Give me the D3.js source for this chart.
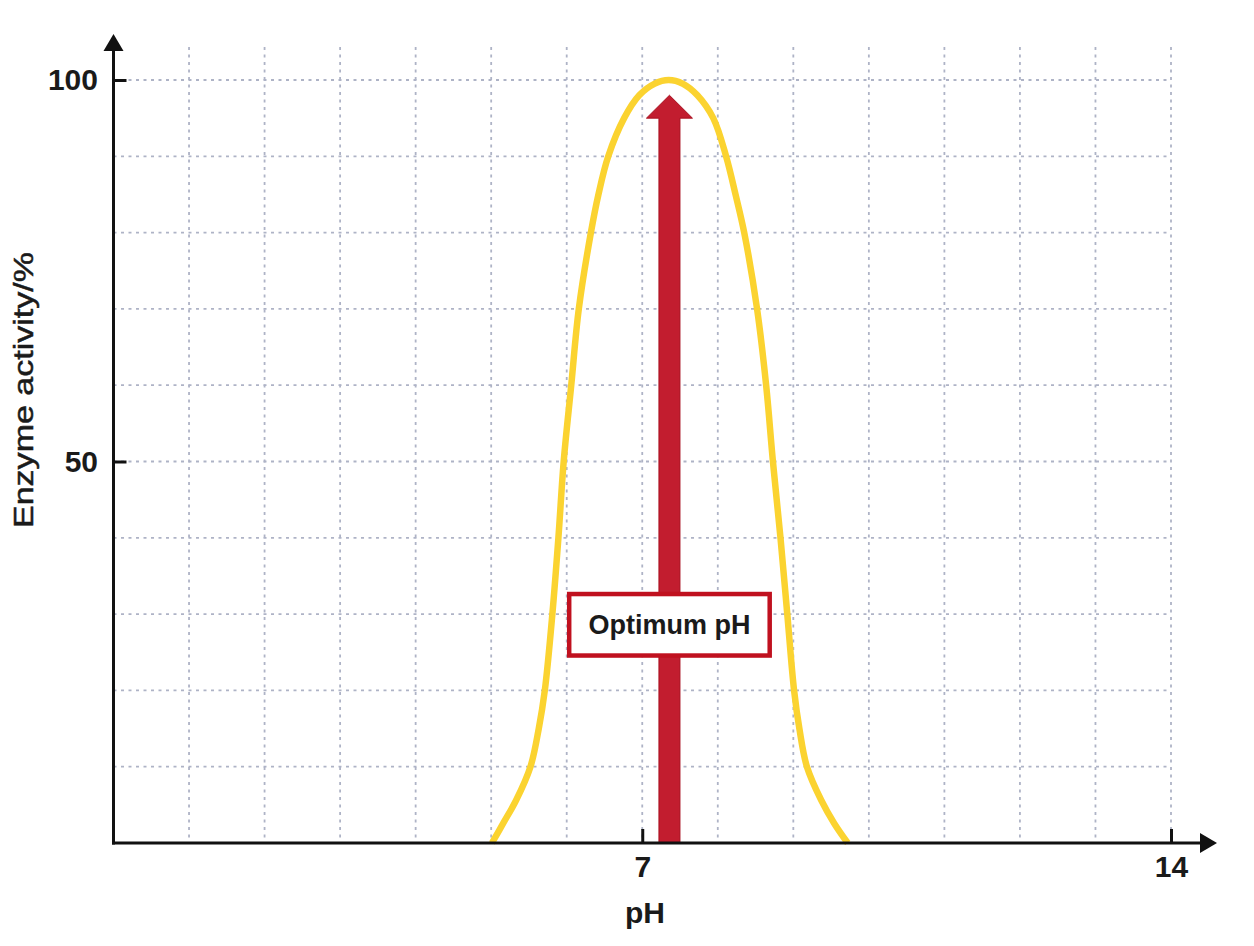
<!DOCTYPE html>
<html>
<head>
<meta charset="utf-8">
<script src="https://cdn.jsdelivr.net/npm/d3@7"></script>
<style>
  html, body { margin: 0; padding: 0; background: #ffffff; }
  svg { display: block; }
</style>
</head>
<body>
<svg id="chart" width="1254" height="946"></svg>
<script>
// ---- data ----
const phValues       = [5.01, 5.16, 5.33, 5.52, 5.63, 5.71, 5.81, 5.89, 5.96, 6.06, 6.16, 6.32, 6.42, 6.55, 6.76, 6.96, 7.16, 7.35, 7.54, 7.73, 7.94, 8.11, 8.235, 8.35, 8.52, 8.64, 8.73, 8.83, 8.92, 9.01, 9.08, 9.18, 9.37, 9.54, 9.72];
const activityValues = [0,    2.6,  5.6,  10,   15,   20,   30,   40,   50,   60,   70,   80,   85,   90,   95,   98,   99.5, 100,  99.5, 98,   95,   90,   85,    80,   70,   60,   50,   40,   30,   20,   15,   10,   5.6,  2.6,  0];
const xTickValues = [7, 14];
const yTickValues = [50, 100];
const xGridValues = [1,2,3,4,5,6,7,8,9,10,11,12,13,14];
const yGridValues = [10,20,30,40,50,60,70,80,90,100];
const optimumPH = 7.36;
const arrowTip = 98;      // activity % at arrow tip
const arrowHeadBase = 95; // activity % at arrow head base
const labelActivity = 28.6;
const xAxisTitle = "pH";
const yAxisTitle = "Enzyme activity/%";
const annotationText = "Optimum pH";

// ---- layout ----
const svg = d3.select("#chart");
const x = d3.scaleLinear().domain([0, 14]).range([113.5, 1171]);
const y = d3.scaleLinear().domain([0, 100]).range([843, 80]);

const gridColor = "#aeb3c6";
const axisColor = "#111111";

// grid
const grid = svg.append("g");
grid.selectAll("line.v").data(xGridValues).join("line")
  .attr("x1", d => x(d)).attr("x2", d => x(d))
  .attr("y1", 47).attr("y2", y(0))
  .attr("stroke", gridColor).attr("stroke-width", 1.8)
  .attr("stroke-dasharray", "3,4.5");
grid.selectAll("line.h").data(yGridValues).join("line")
  .attr("x1", x(0)).attr("x2", x(14))
  .attr("y1", d => y(d)).attr("y2", d => y(d))
  .attr("stroke", gridColor).attr("stroke-width", 1.8)
  .attr("stroke-dasharray", "3,4.5");

// curve
const line = d3.line()
  .x((d, i) => x(phValues[i]))
  .y(d => y(d))
  .curve(d3.curveCatmullRom.alpha(0.5));
svg.append("path")
  .attr("d", line(activityValues))
  .attr("fill", "none")
  .attr("stroke", "#fbd330")
  .attr("stroke-width", 6.5);

// arrow
const ax = x(optimumPH);
const shaftHalf = 10.5, headHalf = 23;
const arrowPath = d3.path();
arrowPath.moveTo(ax - shaftHalf, y(0));
arrowPath.lineTo(ax - shaftHalf, y(arrowHeadBase));
arrowPath.lineTo(ax - headHalf, y(arrowHeadBase));
arrowPath.lineTo(ax, y(arrowTip));
arrowPath.lineTo(ax + headHalf, y(arrowHeadBase));
arrowPath.lineTo(ax + shaftHalf, y(arrowHeadBase));
arrowPath.lineTo(ax + shaftHalf, y(0));
arrowPath.closePath();
svg.append("path")
  .attr("d", arrowPath.toString())
  .attr("fill", "#c21d2f")
  .attr("stroke", "#a80f1f")
  .attr("stroke-width", 1);

// annotation box
const boxW = 200.5, boxH = 61.5;
const by = y(labelActivity);
svg.append("rect")
  .attr("x", ax - boxW / 2).attr("y", by - boxH / 2)
  .attr("width", boxW).attr("height", boxH)
  .attr("fill", "#ffffff")
  .attr("stroke", "#c0111f")
  .attr("stroke-width", 4.5);
svg.append("text")
  .attr("x", ax).attr("y", by + 9.5)
  .attr("text-anchor", "middle")
  .attr("font-family", "'Liberation Sans', Arial, sans-serif")
  .attr("font-weight", "bold")
  .attr("font-size", 27)
  .attr("fill", "#1a1a1a")
  .text(annotationText);

// axes (ticks + labels via d3 axes)
const fontFam = "'Liberation Sans', Arial, sans-serif";
const yAxis = svg.append("g")
  .attr("transform", `translate(${x(0)},0)`)
  .call(d3.axisLeft(y).tickValues(yTickValues).tickSizeInner(-13).tickSizeOuter(0).tickPadding(15.5));
const xAxis = svg.append("g")
  .attr("transform", `translate(0,${y(0)})`)
  .call(d3.axisBottom(x).tickValues(xTickValues).tickSizeInner(-14).tickSizeOuter(0).tickPadding(13));
[yAxis, xAxis].forEach(g => {
  g.select(".domain").remove();
  g.selectAll(".tick line").attr("stroke", axisColor).attr("stroke-width", 3);
  g.selectAll(".tick text")
    .attr("font-family", fontFam)
    .attr("font-weight", "bold")
    .attr("font-size", 30)
    .attr("fill", "#1a1a1a");
});

// axis lines with arrows
svg.append("line")
  .attr("x1", x(0)).attr("x2", x(0))
  .attr("y1", y(0) + 1.5).attr("y2", 50)
  .attr("stroke", axisColor).attr("stroke-width", 3);
svg.append("path")
  .attr("d", `M${x(0)},34 L${x(0) - 10},51 L${x(0) + 10},51 Z`)
  .attr("fill", axisColor);
svg.append("line")
  .attr("x1", x(0) - 1.5).attr("x2", 1201)
  .attr("y1", y(0)).attr("y2", y(0))
  .attr("stroke", axisColor).attr("stroke-width", 3);
svg.append("path")
  .attr("d", `M1217,${y(0)} L1200,${y(0) - 10} L1200,${y(0) + 10} Z`)
  .attr("fill", axisColor);

// axis titles
svg.append("text")
  .attr("x", 645).attr("y", 923)
  .attr("text-anchor", "middle")
  .attr("font-family", fontFam)
  .attr("font-weight", "bold")
  .attr("font-size", 30)
  .attr("fill", "#1a1a1a")
  .text(xAxisTitle);
svg.append("text")
  .attr("transform", "translate(33,390) rotate(-90)")
  .attr("text-anchor", "middle")
  .attr("font-family", fontFam)
  .attr("font-size", 28)
  .attr("fill", "#1a1a1a")
  .attr("stroke", "#1a1a1a")
  .attr("stroke-width", 0.5)
  .attr("textLength", 276)
  .attr("lengthAdjust", "spacingAndGlyphs")
  .text(yAxisTitle);
</script>
</body>
</html>
